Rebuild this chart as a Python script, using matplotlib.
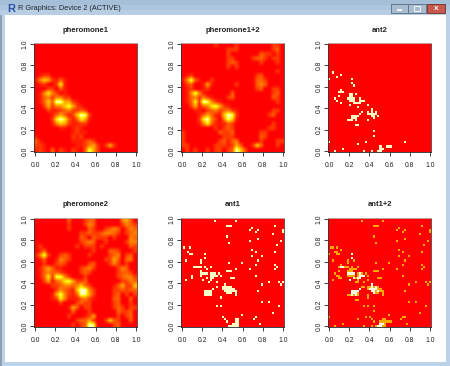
#!/usr/bin/env python3
# -*- coding: utf-8 -*-
import numpy as np
import matplotlib
matplotlib.use('Agg')
import matplotlib.pyplot as plt
from matplotlib.colors import LinearSegmentedColormap, ListedColormap
from matplotlib.patches import Rectangle

plt.rcParams['font.family'] = ['Liberation Sans', 'DejaVu Sans']

W, H = 450, 366
N_ANT = 50
TICKS = [0.0, 0.2, 0.4, 0.6, 0.8, 1.0]
TICK_LABELS = ['0.0', '0.2', '0.4', '0.6', '0.8', '1.0']

# pheromone levels 0-9, top row first
pheromone1 = [
	"0000000000000000000000000",
	"0000000000000000000000000",
	"0000000000000000000000000",
	"0000000000000000000000000",
	"0000000000000000000000000",
	"0000000000000000000000000",
	"0000000000000000000000000",
	"0122000000000000000000000",
	"1465213100000000000000000",
	"0120027100000000000000000",
	"0002203100000000000000000",
	"0147420100000000000000000",
	"0134244220000000000000000",
	"0136399552100000000000000",
	"0025244685210000000000000",
	"0002112342232000000000000",
	"0000135312698200000000000",
	"0000279731375100000000000",
	"0000146521122000000000000",
	"0000001101210000000000000",
	"0000000001211000000000000",
	"1000000002120000000000000",
	"3100000001112320000000000",
	"2210000000112452025200000",
	"1210302102103852000000000",
]
pheromone12 = [
	"0000000020000200000000220",
	"0000000000022200000000230",
	"0000000000020000000322020",
	"0000000000022000023320220",
	"0000000000023200000200020",
	"0000000000020200000000000",
	"0000000000000000000000020",
	"0120000000000000002300000",
	"1483100200000000003320000",
	"0230015100000200003430000",
	"0120012000000000002300220",
	"0148410000003000000000230",
	"0134242100023000000000320",
	"0137298421000000000000020",
	"0025134785210000000000000",
	"0001102342342100000000220",
	"0000135311698200000002300",
	"0000279420486100000000000",
	"0000147311132000000000200",
	"0000000020232000000002200",
	"2000000003223000000220000",
	"2000000000222000000320000",
	"2000000002313400000200022",
	"2200000022212530026300020",
	"0202002022023963000000000",
]
pheromone2 = [
	"0000000030002330000004530",
	"0000000020002430000002432",
	"0000000020000320023430243",
	"0000000000022322344320234",
	"0000000000032032220200043",
	"0000000000023430020000244",
	"0200000000202220200000032",
	"0130000000000020003320002",
	"1482002320000200002340230",
	"0130014320000000022530340",
	"0020023200000230002420200",
	"0135311000023420000024300",
	"0134332100023200000023320",
	"0137288420002000000023442",
	"0025134785223000000002243",
	"0000223443463200000135226",
	"0000024321699420000223233",
	"0000158421398520000230202",
	"0000127411134210000330030",
	"0000002000232200000230020",
	"0000000015302200000232022",
	"0000000003000200000032230",
	"0000000020001250000020230",
	"0000000000233520026320030",
	"0000000002023980000230000",
]

# ant cells as (column, row from the bottom) on the 50x50 grid
ant1_cells = [
	(16,48),(26,48),(22,46),(23,46),(24,46),(33,44),(34,45),(37,44),(36,43),(45,46),(44,42),(49,44),(49,43),
	(22,41),(37,40),(33,39),(23,38),(48,39),(46,37),(1,36),(4,36),(34,35),(36,34),(45,34),(3,34),(4,33),(5,33),
	(11,33),(34,32),(39,32),(11,31),(2,30),(9,29),(9,30),(37,30),(23,29),(29,29),(36,28),(45,28),(46,27),(45,26),
	(6,27),(7,27),(8,27),(9,27),(11,27),(14,27),(12,26),(26,26),(33,26),(22,25),(23,25),(24,25),(9,25),(9,24),(9,23),
	(10,24),(11,24),(12,24),(5,22),(5,23),(36,23),(14,23),(15,23),(18,24),(17,23),(16,23),(14,22),(15,22),(14,21),
	(15,24),(16,24),(14,24),
	(12,22),(10,21),(13,20),(17,20),(19,23),(24,22),(25,22),(2,21),(39,19),(42,20),(47,20),(49,20),(48,19),
	(15,17),(17,18),(21,19),(20,18),(21,18),(22,18),(23,18),(24,18),(20,17),(21,17),(22,17),(23,17),(24,17),(25,17),
	(21,16),(22,16),(23,16),(24,16),(25,16),(22,15),
	(24,15),(23,15),(26,14),(26,15),(26,16),(37,16),(14,15),(11,16),(12,16),(13,16),(14,16),(11,15),(12,15),(13,15),
	(11,14),(12,14),(13,14),(14,14),
	(19,13),(39,11),(42,11),(17,9),(19,9),(47,9),(44,6),(29,5),(20,4),(21,3),(22,2),(35,3),(36,4),(23,0),(38,1),
	(26,3),(27,3),(26,2),(27,2),(26,1),(27,1),(26,0),(27,0),(25,1),(25,0),(24,0),
]
ant2_cells = [
	(2,36),(4,34),(6,35),(0,33),(11,33),(11,31),(12,30),(6,27),(5,27),(7,27),(6,28),(13,26),(5,25),(3,24),(4,23),(6,22),
	(10,26),(11,26),(10,25),(11,25),(9,24),(10,24),(11,24),(12,24),(10,23),(11,23),(12,23),(12,22),
	(15,24),(15,23),(16,23),(17,23),(13,22),(14,22),(15,22),(10,21),(14,20),(19,21),(16,18),
	(19,18),(21,19),(21,18),(23,18),(19,17),(20,17),(21,17),(22,17),(23,17),(21,16),(22,16),(24,16),(22,15),(19,14),
	(15,17),(14,16),(11,16),(12,16),(13,16),(14,16),(11,15),(12,15),(13,15),(9,14),(10,14),(11,14),(13,14),
	(13,12),(14,12),(22,9),(22,7),(0,4),(18,4),(14,3),(37,4),(3,0),(7,1),(17,0),(21,0),
	(25,2),(25,1),(26,1),(24,0),(25,0),(28,2),(29,2),(30,2),
]

TITLES = ['pheromone1', 'pheromone1+2', 'ant2', 'pheromone2', 'ant1', 'ant1+2']

heat = LinearSegmentedColormap.from_list('heat', [
	(0 / 9, '#FF0000'), (1 / 9, '#FF1C00'), (2 / 9, '#FF3C00'), (4 / 9, '#FF8400'),
	(6 / 9, '#FFC800'), (7 / 9, '#FFF000'), (8 / 9, '#FFFF70'), (9 / 9, '#FFFFD8')])
ant_one = ListedColormap(['#FF0000', '#FFFFC8'])
ant_sum = ListedColormap(['#FF0000', '#FFA800', '#FFFFE8'])


def levels(rows):
	return np.array([[int(c) for c in r.ljust(25, '0')[:25]] for r in rows], dtype=float)


def counts(cells):
	grid = np.zeros((N_ANT, N_ANT))
	for col, row in cells:
		grid[N_ANT - 1 - row, col] = 1
	return grid


def panel(fig, px, py, title, img, cmap, vmax, interp):
	# px, py : left and top of the plot region in pixels
	ax = fig.add_axes([px / W, 1 - (py + 109) / H, 103 / W, 109 / H])
	ax.imshow(img, cmap=cmap, vmin=0, vmax=vmax, interpolation=interp, aspect='auto',
		extent=(-0.0102, 1.0102, -0.0102, 1.0102))
	ax.set_xticks(TICKS, TICK_LABELS)
	ax.set_yticks(TICKS, TICK_LABELS)
	ax.tick_params(length=2.6, width=0.6, labelsize=4.9, colors='#222222')
	ax.tick_params(axis='x', pad=4.5)
	ax.tick_params(axis='y', pad=1.5)
	for lab in ax.get_yticklabels():
		lab.set_rotation(90)
		lab.set_va('center')
	for side in ax.spines:
		ax.spines[side].set_linewidth(0.6)
	ax.spines['top'].set_color('#bbbbbb')
	ax.spines['right'].set_color('#553333')
	ax.spines['left'].set_color('#333333')
	ax.spines['bottom'].set_color('#222222')
	fig.text((px + 51.5) / W, 1 - (py - 13) / H, title, ha='center', va='center',
		fontsize=5.5, fontweight='bold', color='#222222')


def chrome(fig):
	def box(x, y, w, h, **kw):
		fig.add_artist(Rectangle((x / W, 1 - (y + h) / H), w / W, h / H, transform=fig.transFigure,
			lw=kw.pop('lw', 0), zorder=kw.pop('zorder', -2), **kw))
	box(0, 0, W, H, fc='#BCD2E8')
	box(0, 0, W, 5, fc='#A6BFD8')
	box(0, 5, W, 5, fc='#AEC6DD')
	box(0, 10, W, 5, fc='#B8CEE4')
	box(0, 15, 2, 351, fc='#8E9FB2')
	box(5, 15, 441, 347, fc='white')
	# window buttons
	box(391, 4, 17, 9, fc='#A9BCD0', ec='#62778E', lw=0.7)
	box(408, 4, 18, 9, fc='#A9BCD0', ec='#62778E', lw=0.7)
	box(427, 4, 18, 9, fc='#C8584A', ec='#7E3A34', lw=0.7)
	box(397, 9, 5, 1.5, fc='#F2F5F8', zorder=-1)
	box(414, 6, 6, 5, fc='none', ec='#F2F5F8', lw=0.7, zorder=-1)
	fig.text(436 / W, 1 - 8.5 / H, 'x', ha='center', va='center', fontsize=6, fontweight='bold', color='white')
	fig.text(7 / W, 1 - 8.5 / H, 'R', ha='left', va='center', fontsize=8, fontweight='bold', color='#2A50A8')
	fig.text(18 / W, 1 - 8.5 / H, 'R Graphics: Device 2 (ACTIVE)', ha='left', va='center', fontsize=5.3, color='#1c2530')


if __name__ == '__main__':
	fig = plt.figure(figsize=(W / 100, H / 100), dpi=100)
	chrome(fig)
	ant1 = counts(ant1_cells)
	ant2 = counts(ant2_cells)
	panel(fig, 34, 43, TITLES[0], levels(pheromone1), heat, 9, 'bilinear')
	panel(fig, 181, 43, TITLES[1], levels(pheromone12), heat, 9, 'bilinear')
	panel(fig, 328, 43, TITLES[2], ant2, ant_one, 1, 'nearest')
	panel(fig, 34, 218, TITLES[3], levels(pheromone2), heat, 9, 'bilinear')
	panel(fig, 181, 218, TITLES[4], ant1, ant_one, 1, 'nearest')
	panel(fig, 328, 218, TITLES[5], ant1 + ant2, ant_sum, 2, 'nearest')
	fig.savefig('out.png', dpi=100)
